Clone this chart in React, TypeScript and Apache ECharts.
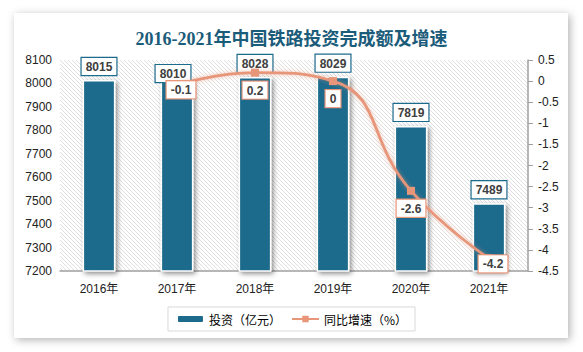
import React, { useEffect, useRef } from 'react';
import * as echarts from 'echarts';

const years = ['2016年', '2017年', '2018年', '2019年', '2020年', '2021年'];
const investment = [8015, 8010, 8028, 8029, 7819, 7489];
const growth: (number | string)[] = ['-', -0.1, 0.2, 0, -2.6, -4.2];

const BAR_COLOR = '#1C6A8C';
const LINE_COLOR = '#E8967A';
const TEXT = '#404040';

function hatchPattern() {
  const size = 4;
  const c = document.createElement('canvas');
  c.width = size;
  c.height = size;
  const ctx = c.getContext('2d')!;
  ctx.fillStyle = '#ffffff';
  ctx.fillRect(0, 0, size, size);
  ctx.strokeStyle = '#E0E0E0';
  ctx.lineWidth = 1;
  ctx.beginPath();
  ctx.moveTo(-1, -1);
  ctx.lineTo(size + 1, size + 1);
  ctx.moveTo(-1, size - 1);
  ctx.lineTo(1, size + 1);
  ctx.moveTo(size - 1, -1);
  ctx.lineTo(size + 1, 1);
  ctx.stroke();
  return { image: c, repeat: 'repeat' as const };
}

export default function App() {
  const ref = useRef<HTMLDivElement>(null);

  useEffect(() => {
    if (!ref.current) return;
    const chart = echarts.init(ref.current, undefined, { renderer: 'svg' });

    const barLabelOffsets: Record<number, number[]> = { 1: [-4, 6] };
    const lineLabelOffsets: Record<number, number[]> = {
      1: [4, -13],
      5: [4, -12],
    };

    chart.setOption({
      animation: false,
      backgroundColor: '#ffffff',
      graphic: [
        {
          type: 'rect',
          z: -10,
          shape: { x: 14, y: 13, width: 554, height: 325 },
          style: {
            fill: '#ffffff',
            shadowBlur: 8,
            shadowColor: 'rgba(0,0,0,0.3)',
            shadowOffsetX: 2,
            shadowOffsetY: 2,
          },
        },
      ],
      title: {
        text: '2016-2021年中国铁路投资完成额及增速',
        left: 'center',
        top: 25,
        textStyle: {
          fontFamily: '"Liberation Serif", "Noto Sans CJK SC", serif',
          fontSize: 18,
          fontWeight: 'bold',
          color: '#1B5C7A',
        },
      },
      legend: {
        bottom: 21,
        left: 'center',
        itemWidth: 27,
        itemHeight: 8,
        itemGap: 10,
        padding: [6, 8],
        borderColor: '#D9D9D9',
        borderWidth: 1,
        textStyle: {
          fontFamily: '"Noto Sans CJK SC", sans-serif',
          fontSize: 12,
          color: '#000',
        },
        data: ['投资（亿元）', '同比增速（%）'],
      },
      grid: {
        left: 60,
        right: 55,
        top: 60,
        bottom: 81,
        show: true,
        borderWidth: 0,
        backgroundColor: hatchPattern(),
      },
      xAxis: {
        type: 'category',
        data: years,
        axisLine: { onZero: false, lineStyle: { color: '#A0A0A0', width: 1.5 } },
        axisTick: { show: false },
        axisLabel: {
          fontFamily: '"Liberation Sans", "Noto Sans CJK SC", sans-serif',
          fontSize: 12,
          color: '#222',
          margin: 12,
        },
      },
      yAxis: [
        {
          type: 'value',
          min: 7200,
          max: 8100,
          interval: 100,
          axisLine: { show: false },
          axisTick: { show: false },
          splitLine: { show: false },
          axisLabel: {
            fontFamily: '"Liberation Sans", sans-serif',
            fontSize: 12,
            color: '#222',
            margin: 8,
            formatter: (v: number) => String(v),
          },
        },
        {
          type: 'value',
          min: -4.5,
          max: 0.5,
          interval: 0.5,
          position: 'right',
          axisLine: { show: true, onZero: false, lineStyle: { color: '#A0A0A0', width: 1.5 } },
          axisTick: { show: true, length: 5, lineStyle: { color: '#A0A0A0' } },
          splitLine: { show: false },
          axisLabel: {
            fontFamily: '"Liberation Sans", sans-serif',
            fontSize: 12,
            color: '#222',
            margin: 10,
          },
        },
      ],
      series: [
        {
          name: '投资（亿元）',
          type: 'bar',
          barWidth: '42%',
          data: investment.map((v, i) => ({
            value: v,
            label: barLabelOffsets[i] ? { offset: barLabelOffsets[i] } : undefined,
          })),
          itemStyle: {
            color: BAR_COLOR,
            borderColor: '#ffffff',
            borderWidth: 1.5,
            shadowBlur: 5,
            shadowColor: 'rgba(0,0,0,0.45)',
            shadowOffsetX: 2,
            shadowOffsetY: 2,
          },
          label: {
            show: true,
            position: 'top',
            distance: 5,
            backgroundColor: '#ffffff',
            borderColor: BAR_COLOR,
            borderWidth: 1.2,
            padding: [3, 4, 2, 4],
            fontFamily: '"Liberation Sans", sans-serif',
            fontSize: 12,
            fontWeight: 'bold',
            color: TEXT,
          },
          z: 2,
        },
        {
          name: '同比增速（%）',
          type: 'line',
          yAxisIndex: 1,
          smooth: 0.5,
          symbol: 'rect',
          symbolSize: 8,
          showSymbol: true,
          data: growth.map((v, i) => ({
            value: v,
            label: lineLabelOffsets[i] ? { offset: lineLabelOffsets[i] } : undefined,
          })),
          lineStyle: {
            color: LINE_COLOR,
            width: 2.8,
            shadowBlur: 4,
            shadowColor: 'rgba(232,150,122,0.6)',
          },
          itemStyle: { color: LINE_COLOR },
          label: {
            show: true,
            position: 'bottom',
            distance: 5,
            backgroundColor: '#ffffff',
            borderColor: LINE_COLOR,
            borderWidth: 1.2,
            padding: [3, 4, 2, 4],
            fontFamily: '"Liberation Sans", sans-serif',
            fontSize: 12,
            fontWeight: 'bold',
            color: TEXT,
          },
          z: 5,
        },
      ],
    });

    return () => chart.dispose();
  }, []);

  return (
    <div
      ref={ref}
      style={{ position: 'absolute', left: 0, top: 0, width: 583, height: 352 }}
    />
  );
}
